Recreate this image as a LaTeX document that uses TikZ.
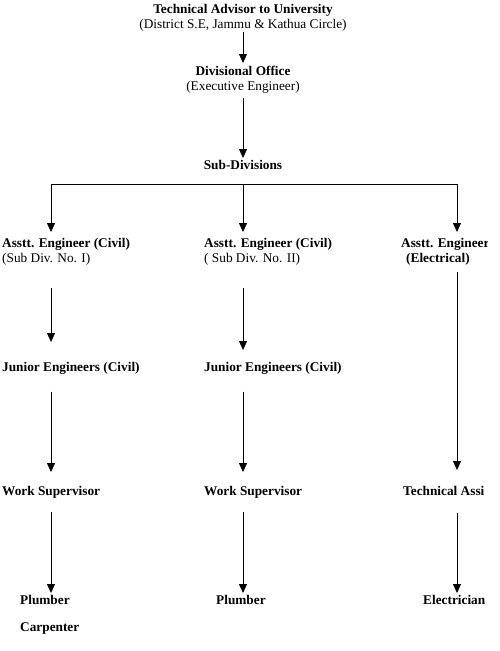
\documentclass[tikz,border=0pt]{standalone}
\usepackage{fontspec}
\setmainfont{Liberation Serif}
\usetikzlibrary{arrows.meta,positioning}
\newcommand{\orgfont}{\fontsize{13.3}{15}\selectfont}

\begin{document}
\begin{tikzpicture}[
    x=1pt, y=1pt,
    head/.style={inner sep=0pt, align=center, anchor=north, font=\orgfont},
    post/.style={inner sep=0pt, align=left, anchor=north west, font=\orgfont\bfseries},
    arr/.style={-{Triangle[width=8pt,length=9pt]}, line width=0.8pt}
  ]
  \useasboundingbox (0,0) rectangle (500,-651);
  \clip (0,0) rectangle (487,-651);
  \coordinate (col1) at (51,0);
  \coordinate (col2) at (243,0);
  \coordinate (col3) at (457,0);
  \coordinate (bar)  at (0,-184);
  % top of the chart
  \node[head] (adv) at (243,-4)  {\textbf{Technical Advisor to University}\\(District S.E, Jammu \& Kathua Circle)};
  \node[head] (div) at (243,-66) {\textbf{Divisional Office}\\(Executive Engineer)};
  \node[head, font=\orgfont\bfseries] (sub) at (243,-160) {Sub-Divisions};
  \draw[arr, shorten <=1pt, shorten >=3pt] (adv) -- (div);
  \draw[arr, shorten <=4pt, shorten >=2pt] (div) -- (sub);
  % sub-divisions
  \node[post] (ae1) at (2,-238)   {Asstt. Engineer (Civil)\\{\mdseries (Sub Div. No. I)}};
  \node[post] (ae2) at (204,-238) {Asstt. Engineer (Civil)\\{\mdseries ( Sub Div. No. II)}};
  \node[post] (ae3) at (401,-238) {Asstt. Engineer\\\hspace*{5pt}(Electrical)};
  \draw[line width=0.8pt] (bar -| col1) -- (bar -| col3);
  \foreach \i in {1,2,3}
    \draw[arr, shorten >=6pt] (bar -| col\i) -- (ae\i.north -| col\i);
  % staff
  \node[post] (je1) at (2,-362)   {Junior Engineers (Civil)};
  \node[post] (je2) at (204,-362) {Junior Engineers (Civil)};
  \node[post] (ws1) at (2,-486)   {Work Supervisor};
  \node[post] (ws2) at (204,-486) {Work Supervisor};
  \node[post] (ta)  at (403,-486) {Technical Assi};
  \node[post] (pl1) at (20,-595)  {Plumber};
  \node[post] (pl2) at (216,-595) {Plumber};
  \node[post] (el)  at (423,-595) {Electrician};
  \node[post, below=18pt of pl1.south west, anchor=north west] (cp) {Carpenter};
  \draw[arr, shorten <=23pt, shorten >=20pt] (ae1.south -| col1) -- (je1.north -| col1);
  \draw[arr, shorten <=23pt, shorten >=12pt] (ae2.south -| col2) -- (je2.north -| col2);
  \draw[arr, shorten <=7pt, shorten >=16pt]  (ae3.south -| col3) -- (ta.north -| col3);
  \draw[arr, shorten <=17pt, shorten >=14pt] (je1.south -| col1) -- (ws1.north -| col1);
  \draw[arr, shorten <=17pt, shorten >=14pt] (je2.south -| col2) -- (ws2.north -| col2);
  \draw[arr, shorten <=14pt, shorten >=2pt]  (ws1.south -| col1) -- (pl1.north -| col1);
  \draw[arr, shorten <=14pt, shorten >=2pt]  (ws2.south -| col2) -- (pl2.north -| col2);
  \draw[arr, shorten <=17pt, shorten >=2pt]  (ta.south -| col3) -- (el.north -| col3);
\end{tikzpicture}
\end{document}
